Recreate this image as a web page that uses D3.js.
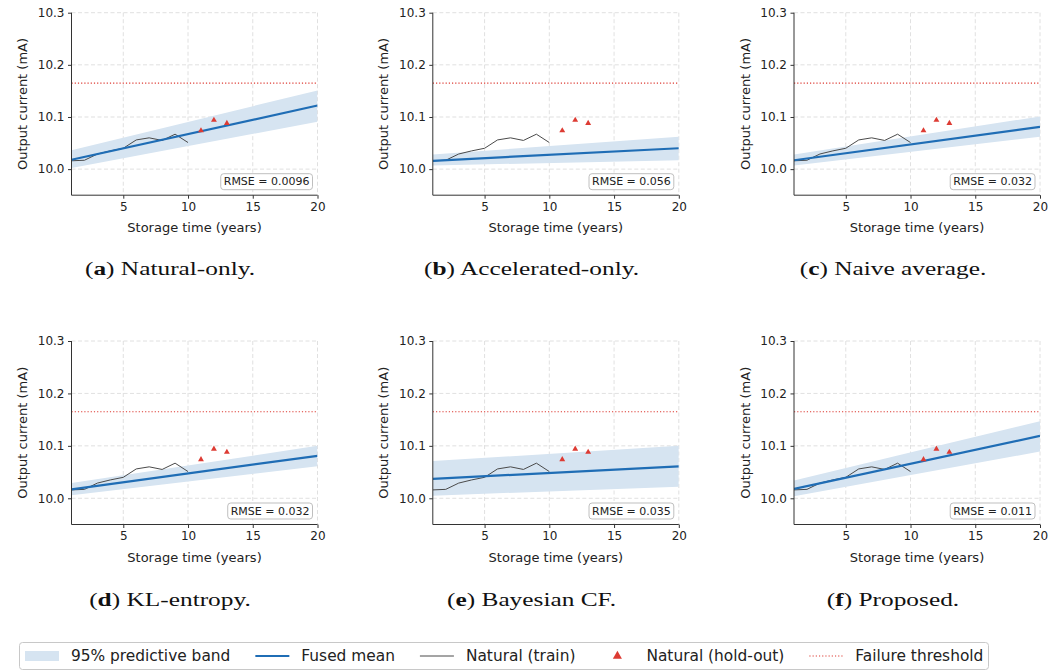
<!DOCTYPE html>
<html>
<head>
<meta charset="utf-8">
<script src="https://cdn.jsdelivr.net/npm/d3@7"></script>
<style>
  html, body { margin: 0; padding: 0; background: #fff; }
  svg { display: block; }
  .tick text { font-family: "DejaVu Sans", sans-serif; font-size: 12px; fill: #222; }
</style>
</head>
<body>
<svg id="chart" width="1058" height="671"></svg>
<script>
// Natural storage record (training years) and hold-out years
const trainYears = [1, 2, 3, 4, 5, 6, 7, 8, 9, 10];
const trainCurrent = [10.016, 10.017, 10.029, 10.035, 10.040, 10.056, 10.060, 10.055, 10.067, 10.051];
const holdoutYears = [11, 12, 13];
const holdoutCurrent = [10.074, 10.094, 10.088];
const failureThreshold = 10.165;

// Fusion methods, one panel each
const panelLetters = ["a", "b", "c", "d", "e", "f"];
const methodNames = ["Natural-only.", "Accelerated-only.", "Naive average.", "KL-entropy.", "Bayesian CF.", "Proposed."];
const rmseLabels = ["0.0096", "0.056", "0.032", "0.032", "0.035", "0.011"];

// Fused mean and 95% band at the ends of the horizon (year 1 and year 20)
const horizon = [1, 20];
const meanStart = [10.018, 10.016, 10.017, 10.017, 10.037, 10.018];
const meanEnd = [10.122, 10.040, 10.081, 10.081, 10.061, 10.119];
const bandLowStart = [10.002, 10.007, 10.007, 10.006, 10.005, 10.004];
const bandHighStart = [10.036, 10.028, 10.028, 10.029, 10.071, 10.034];
const bandLowEnd = [10.091, 10.017, 10.062, 10.061, 10.022, 10.089];
const bandHighEnd = [10.151, 10.062, 10.101, 10.100, 10.100, 10.147];

// Axis settings
const xDomain = [1, 20];
const yDomain = [9.95, 10.3];
const xTicks = [5, 10, 15, 20];
const yTicks = [10.0, 10.1, 10.2, 10.3];

const legendLabels = ["95% predictive band", "Fused mean", "Natural (train)", "Natural (hold-out)", "Failure threshold"];

const BLUE = "#1f6db5";
const BAND = "#d6e4f1";
const RED = "#dd3b33";
const TRAIN = "#4a4a4a";
const SANS = "DejaVu Sans, sans-serif";
const SERIF = "Liberation Serif, serif";

const svg = d3.select("#chart");

const axW = 246;
const colX = [71.5, 432.8, 794];
const rowTop = [12.7, 341];
const axH = [182.5, 183.5];
const captionX = [170, 531.5, 893];
const captionY = [275, 606];
const captionStretch = 1.3; // wider book-face proportions for the captions

const lineGen = (x, y) => d3.line().x(d => x(d[0])).y(d => y(d[1]));

panelLetters.forEach((letter, i) => {
  const col = i % 3, row = Math.floor(i / 3);
  const x0 = colX[col], y0 = rowTop[row], h = axH[row];
  const g = svg.append("g").attr("transform", `translate(${x0},${y0})`);

  const x = d3.scaleLinear().domain(xDomain).range([0, axW]);
  const y = d3.scaleLinear().domain(yDomain).range([h, 0]);

  const clipId = "clip" + i;
  g.append("clipPath").attr("id", clipId)
    .append("rect").attr("x", 0).attr("y", 0).attr("width", axW).attr("height", h);

  // grid
  const grid = g.append("g");
  grid.selectAll(".gx").data(xTicks).join("line")
    .attr("x1", d => x(d)).attr("x2", d => x(d)).attr("y1", 0).attr("y2", h)
    .attr("stroke", "#d8d8d8").attr("stroke-width", 0.8).attr("stroke-dasharray", "4,2.5");
  grid.selectAll(".gy").data(yTicks).join("line")
    .attr("x1", 0).attr("x2", axW).attr("y1", d => y(d)).attr("y2", d => y(d))
    .attr("stroke", "#d8d8d8").attr("stroke-width", 0.8).attr("stroke-dasharray", "4,2.5");

  const plot = g.append("g").attr("clip-path", `url(#${clipId})`);

  // 95% predictive band
  const bandPts = [
    [horizon[0], bandHighStart[i]], [horizon[1], bandHighEnd[i]],
    [horizon[1], bandLowEnd[i]], [horizon[0], bandLowStart[i]]
  ];
  plot.append("path")
    .attr("d", lineGen(x, y)(bandPts) + "Z")
    .attr("fill", BAND).attr("stroke", "none");

  // failure threshold
  plot.append("line")
    .attr("x1", x(xDomain[0])).attr("x2", x(xDomain[1]))
    .attr("y1", y(failureThreshold)).attr("y2", y(failureThreshold))
    .attr("stroke", RED).attr("stroke-width", 1.1).attr("stroke-dasharray", "1.2,2");

  // natural training record
  plot.append("path")
    .datum(trainYears.map((t, k) => [t, trainCurrent[k]]))
    .attr("d", lineGen(x, y))
    .attr("fill", "none").attr("stroke", TRAIN).attr("stroke-width", 1);

  // fused mean
  plot.append("path")
    .datum([[horizon[0], meanStart[i]], [horizon[1], meanEnd[i]]])
    .attr("d", lineGen(x, y))
    .attr("fill", "none").attr("stroke", BLUE).attr("stroke-width", 2.2);

  // hold-out observations
  plot.selectAll(".ho").data(holdoutYears.map((t, k) => [t, holdoutCurrent[k]])).join("path")
    .attr("transform", d => `translate(${x(d[0])},${y(d[1])})`)
    .attr("d", d3.symbol(d3.symbolTriangle, 15))
    .attr("fill", RED);

  // axes
  const xAxis = g.append("g").attr("transform", `translate(0,${h})`)
    .call(d3.axisBottom(x).tickValues(xTicks).tickSize(3.5).tickPadding(3.5).tickFormat(d3.format("d")));
  const yAxis = g.append("g")
    .call(d3.axisLeft(y).tickValues(yTicks).tickSize(3.5).tickPadding(3.5).tickFormat(d3.format(".1f")));
  [xAxis, yAxis].forEach(a => {
    a.select(".domain").attr("stroke", "#333").attr("stroke-width", 1);
    a.selectAll(".tick line").attr("stroke", "#333");
  });
  yAxis.select(".domain").attr("d", `M0,${h}V0`);
  xAxis.select(".domain").attr("d", `M0,0H${axW}`);

  // axis titles
  g.append("text")
    .attr("x", axW / 2).attr("y", h + 37)
    .attr("text-anchor", "middle")
    .style("font-family", SANS).style("font-size", "13px").attr("fill", "#222")
    .text("Storage time (years)");
  g.append("text")
    .attr("transform", `translate(${-44.5},${h / 2}) rotate(-90)`)
    .attr("text-anchor", "middle")
    .style("font-family", SANS).style("font-size", "13px").attr("fill", "#222")
    .text("Output current (mA)");

  // RMSE annotation
  const rm = g.append("g");
  const rt = rm.append("text")
    .style("font-family", SANS).style("font-size", "11px").attr("fill", "#222")
    .attr("text-anchor", "end")
    .attr("x", axW - 8).attr("y", h - 10)
    .text("RMSE = " + rmseLabels[i]);
  const bb = rt.node().getBBox();
  rm.insert("rect", "text")
    .attr("x", bb.x - 3).attr("y", bb.y - 1.5)
    .attr("width", bb.width + 6).attr("height", bb.height + 3)
    .attr("rx", 3).attr("fill", "#fff").attr("stroke", "#b8b8b8").attr("stroke-width", 0.9);

  // caption
  const cap = svg.append("g")
    .attr("transform", `translate(${captionX[col]},${captionY[row]}) scale(${captionStretch},1)`)
    .append("text")
    .attr("x", 0).attr("y", 0)
    .attr("text-anchor", "middle")
    .style("font-family", SERIF).style("font-size", "19.5px").attr("fill", "#111");
  cap.append("tspan").text("(");
  cap.append("tspan").style("font-weight", "bold").text(letter);
  cap.append("tspan").text(") " + methodNames[i]);
});

// Legend
const leg = svg.append("g");
const legY = 656;
leg.append("rect")
  .attr("x", 19.5).attr("y", 642.5).attr("width", 969).attr("height", 27)
  .attr("rx", 3).attr("fill", "#fff").attr("stroke", "#c8c8c8").attr("stroke-width", 1);

let cx = 25;
legendLabels.forEach((label, k) => {
  const hw = 34;
  if (k === 0) {
    leg.append("rect").attr("x", cx).attr("y", legY - 5).attr("width", hw).attr("height", 10).attr("fill", BAND);
  } else if (k === 1) {
    leg.append("line").attr("x1", cx).attr("x2", cx + hw).attr("y1", legY).attr("y2", legY)
      .attr("stroke", BLUE).attr("stroke-width", 2.2);
  } else if (k === 2) {
    leg.append("line").attr("x1", cx).attr("x2", cx + hw).attr("y1", legY).attr("y2", legY)
      .attr("stroke", TRAIN).attr("stroke-width", 1);
  } else if (k === 3) {
    leg.append("path").attr("transform", `translate(${cx + hw / 2},${legY})`)
      .attr("d", d3.symbol(d3.symbolTriangle, 36)).attr("fill", RED);
  } else {
    leg.append("line").attr("x1", cx).attr("x2", cx + hw).attr("y1", legY).attr("y2", legY)
      .attr("stroke", RED).attr("stroke-width", 1.1).attr("stroke-dasharray", "1.2,2");
  }
  const t = leg.append("text")
    .attr("x", cx + hw + 12).attr("y", legY + 5.4)
    .style("font-family", SANS).style("font-size", "15.4px").attr("fill", "#222")
    .text(label);
  cx = cx + hw + 12 + t.node().getComputedTextLength() + 25;
});
</script>
</body>
</html>
